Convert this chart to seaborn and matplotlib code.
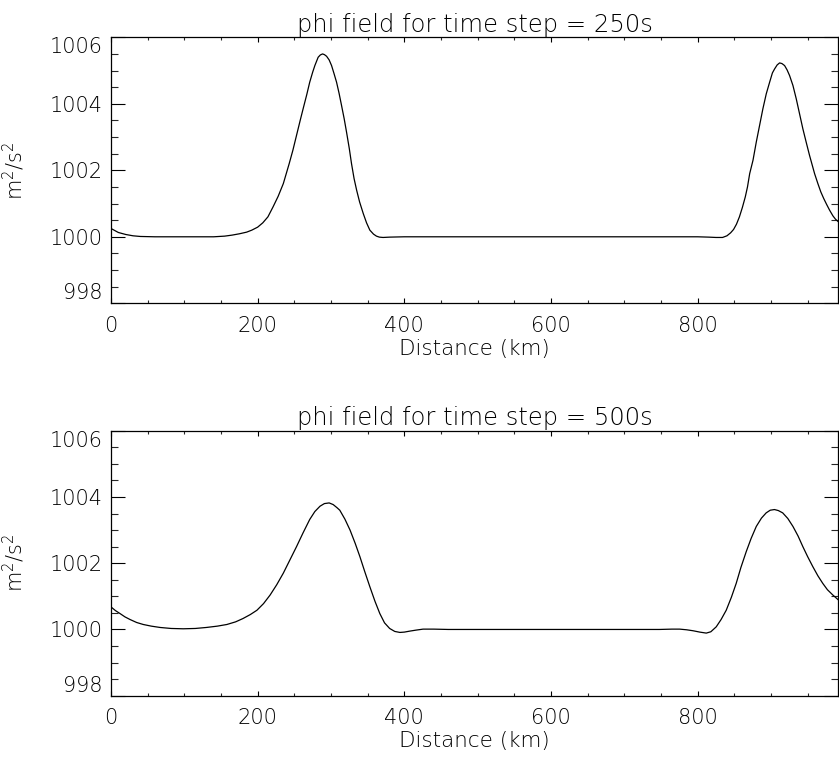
import matplotlib
matplotlib.use("Agg")
import matplotlib.pyplot as plt
import seaborn as sns
import pandas as pd
from matplotlib.ticker import FixedLocator, MultipleLocator

# ---- data ----
titles = ["phi field for time step = 250s", "phi field for time step = 500s"]

x_250 = [0, 10, 20, 30, 40, 60, 100, 140, 155, 165, 175, 185, 192, 200, 207, 214, 221,
         228, 235, 243, 248, 253, 258, 262, 267, 271, 275, 278, 282.5, 285.5, 288.5, 291,
         294, 297.5, 300.8, 304, 307.6, 311, 314.4, 318, 321.2, 325, 328, 331.5, 335, 339,
         344, 348.5, 353, 358, 362, 366, 371, 380, 400, 500, 600, 700, 800, 815, 825, 834,
         840, 845, 849, 853, 857, 861, 865, 868, 871, 875.5, 880, 884.5, 889, 893.6, 898.2,
         902, 905, 908.5, 911.8, 915, 918.6, 922, 925.4, 930, 934.5, 939, 943.5, 948,
         952.6, 957, 959.5, 964, 968, 972, 976, 980, 984.5, 988, 992]
phi_250 = [1000.25, 1000.13, 1000.07, 1000.03, 1000.01, 1000.0, 1000.0, 1000.0, 1000.02,
           1000.05, 1000.09, 1000.14, 1000.2, 1000.29, 1000.42, 1000.6, 1000.9, 1001.22,
           1001.6, 1002.2, 1002.6, 1003.05, 1003.5, 1003.85, 1004.28, 1004.65, 1004.95,
           1005.15, 1005.4, 1005.47, 1005.5, 1005.48, 1005.43, 1005.32, 1005.15, 1004.92,
           1004.65, 1004.32, 1003.95, 1003.55, 1003.15, 1002.65, 1002.2, 1001.75, 1001.4,
           1001.05, 1000.7, 1000.42, 1000.2, 1000.08, 1000.02, 999.99, 999.98, 999.99,
           1000.0, 1000.0, 1000.0, 1000.0, 1000.0, 999.99, 999.98, 999.98, 1000.03, 1000.12,
           1000.22, 1000.38, 1000.6, 1000.88, 1001.2, 1001.5, 1001.9, 1002.3, 1002.85,
           1003.35, 1003.85, 1004.3, 1004.65, 1004.93, 1005.05, 1005.17, 1005.23, 1005.21,
           1005.15, 1005.02, 1004.85, 1004.55, 1004.15, 1003.7, 1003.25, 1002.85, 1002.45,
           1002.1, 1001.9, 1001.6, 1001.35, 1001.15, 1000.97, 1000.8, 1000.63, 1000.53,
           1000.45]

x_500 = [0, 6, 12.3, 19, 26, 35, 44, 55, 67, 82, 98.5, 115, 130, 145, 158, 170, 180, 190,
         199, 208, 217, 226, 235, 244, 253, 262, 271, 278, 285, 291, 297.5, 303, 308, 312,
         319, 326, 333, 339.4, 346, 353, 360, 366.6, 373, 380, 387, 394, 400, 407.5, 416,
         425.6, 440, 460, 550, 650, 748, 765, 775.5, 785, 794, 803, 811.8, 818, 825.4, 832,
         839, 846, 852.6, 859, 866.3, 873, 880, 887, 893.5, 899, 904.8, 910, 916, 923, 930,
         937, 943.5, 950, 957, 964, 970.7, 977, 984.4, 992]
phi_500 = [1000.68, 1000.57, 1000.48, 1000.38, 1000.3, 1000.21, 1000.15, 1000.1, 1000.06,
           1000.03, 1000.02, 1000.03, 1000.06, 1000.1, 1000.15, 1000.23, 1000.33, 1000.45,
           1000.58, 1000.78, 1001.04, 1001.35, 1001.7, 1002.1, 1002.5, 1002.92, 1003.32,
           1003.56, 1003.72, 1003.8, 1003.82, 1003.77, 1003.68, 1003.6, 1003.33, 1003.0,
           1002.6, 1002.2, 1001.75, 1001.29, 1000.85, 1000.48, 1000.2, 1000.03, 999.94,
           999.91, 999.92, 999.95, 999.98, 1000.01, 1000.01, 1000.0, 1000.0, 1000.0, 1000.0,
           1000.01, 1000.01, 999.99, 999.96, 999.92, 999.89, 999.93, 1000.08, 1000.3,
           1000.58, 1000.97, 1001.39, 1001.87, 1002.35, 1002.75, 1003.11, 1003.36, 1003.52,
           1003.6, 1003.62, 1003.59, 1003.52, 1003.35, 1003.11, 1002.82, 1002.5, 1002.2,
           1001.9, 1001.62, 1001.39, 1001.2, 1001.04, 1000.89]

x_ticks = [0, 200, 400, 600, 800]
y_ticks = [998, 1000, 1002, 1004, 1006]
x_label = "Distance (km)"
y_label = "m$^2$/s$^2$"

# ---- style ----
sns.set_style("white")
plt.rcParams["font.family"] = ["DejaVu Sans"]
plt.rcParams["font.weight"] = "light"
plt.rcParams["axes.titleweight"] = "light"
plt.rcParams["axes.labelweight"] = "light"
plt.rcParams["axes.linewidth"] = 0.9
plt.rcParams["mathtext.default"] = "regular"

fig = plt.figure(figsize=(8.39, 7.63), dpi=100)
positions = [[0.1323, 0.6025, 0.8670, 0.3486], [0.1323, 0.0882, 0.8670, 0.3473]]
series = [(x_250, phi_250), (x_500, phi_500)]

for pos, (xs, ys), title in zip(positions, series, titles):
    ax = fig.add_axes(pos)
    df = pd.DataFrame({"x": xs, "phi": ys})
    sns.lineplot(data=df, x="x", y="phi", ax=ax, color="black", linewidth=0.9,
                 estimator=None, sort=False)
    ax.set_xlim(0, 992)
    ax.set_ylim(998, 1006)
    ax.xaxis.set_major_locator(FixedLocator(x_ticks))
    ax.xaxis.set_minor_locator(MultipleLocator(50))
    ax.yaxis.set_major_locator(FixedLocator(y_ticks))
    ax.yaxis.set_minor_locator(MultipleLocator(0.5))
    for s in ax.spines.values():
        s.set_visible(True)
        s.set_color("black")
    ax.tick_params(axis="x", which="major", direction="in", length=3.6, width=0.8,
                   top=True, bottom=True, labelsize=15, pad=9, colors="black")
    ax.tick_params(axis="x", which="minor", direction="in", length=2.0, width=0.8,
                   top=True, bottom=True)
    ax.tick_params(axis="y", which="major", direction="in", length=10, width=0.8,
                   left=True, right=True, labelsize=15, pad=6, colors="black")
    ax.tick_params(axis="y", which="minor", direction="in", length=5, width=0.8,
                   left=True, right=True)
    ax.set_xticklabels([str(v) for v in x_ticks])
    ax.set_yticklabels([str(v) for v in y_ticks])
    ticks = ax.yaxis.get_major_ticks()
    ticks[0].label1.set_va("bottom")
    ticks[-1].label1.set_va("top")
    ax.set_xlabel(x_label, fontsize=15.5, labelpad=2, color="black")
    ax.set_ylabel(y_label, fontsize=15, color="black")
    ax.yaxis.set_label_coords(-0.115, 0.5)
    ax.set_title(title, fontsize=17.5, pad=4, color="black")

fig.savefig("out.png", dpi=100)
